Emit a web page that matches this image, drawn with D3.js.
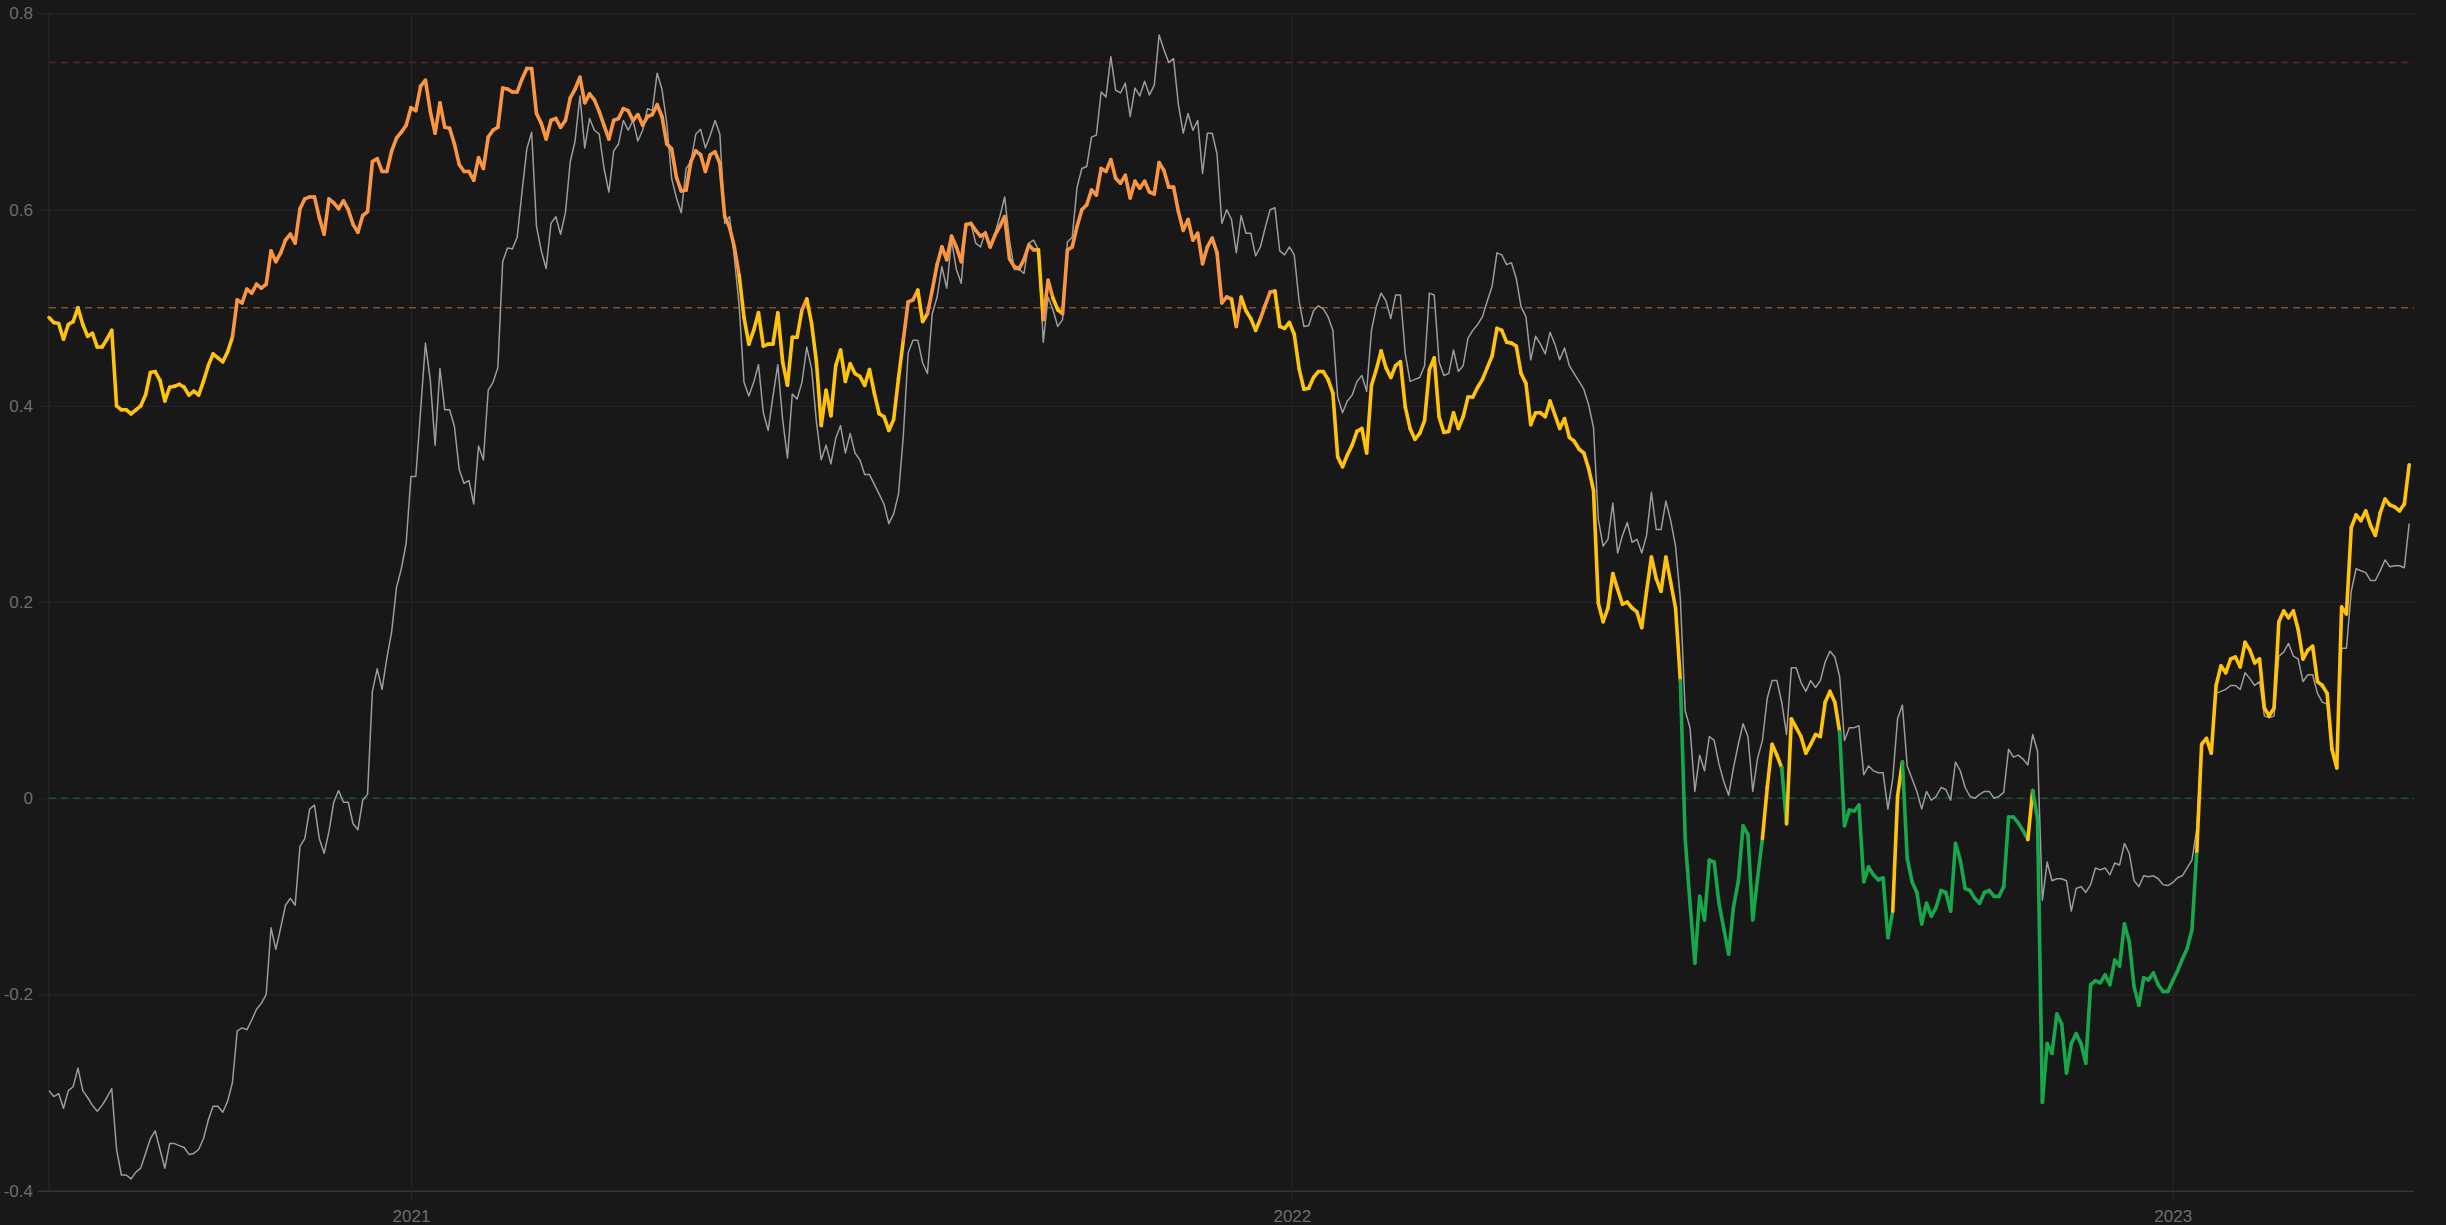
<!DOCTYPE html>
<html><head><meta charset="utf-8">
<script src="https://cdn.jsdelivr.net/npm/d3@7"></script>
<style>html,body{margin:0;padding:0;background:#181818;overflow:hidden}</style>
</head><body><svg id="c" width="2446" height="1225"></svg>
<script>
const startDate = "2020-08-04";
const endDate = "2023-04-11";
const stepDays = 2;

const strengthValues = [
0.490,0.485,0.484,0.468,0.483,0.486,0.500,0.483,0.471,0.474,
0.460,0.460,0.468,0.477,0.400,0.396,0.396,0.392,0.396,0.400,
0.411,0.434,0.435,0.426,0.405,0.419,0.420,0.422,0.419,0.411,
0.415,0.411,0.425,0.441,0.453,0.449,0.445,0.455,0.470,0.508,
0.505,0.519,0.515,0.524,0.520,0.524,0.558,0.547,0.556,0.569,
0.575,0.566,0.601,0.611,0.613,0.613,0.592,0.575,0.611,0.607,
0.601,0.609,0.600,0.585,0.577,0.594,0.598,0.649,0.652,0.639,
0.639,0.660,0.673,0.679,0.686,0.704,0.701,0.726,0.732,0.700,
0.678,0.709,0.684,0.683,0.667,0.646,0.639,0.639,0.630,0.653,
0.642,0.674,0.681,0.684,0.724,0.723,0.720,0.720,0.733,0.744,
0.744,0.698,0.688,0.672,0.691,0.693,0.684,0.691,0.714,0.723,
0.735,0.709,0.718,0.712,0.700,0.686,0.672,0.691,0.693,0.703,
0.701,0.691,0.697,0.686,0.695,0.697,0.707,0.695,0.667,0.662,
0.633,0.619,0.620,0.649,0.660,0.656,0.639,0.656,0.659,0.647,
0.593,0.582,0.562,0.533,0.490,0.463,0.477,0.495,0.461,0.463,
0.463,0.495,0.445,0.421,0.470,0.470,0.498,0.509,0.484,0.445,
0.380,0.416,0.390,0.441,0.457,0.425,0.443,0.433,0.430,0.421,
0.437,0.413,0.392,0.389,0.375,0.386,0.428,0.467,0.506,0.508,
0.518,0.486,0.494,0.518,0.544,0.562,0.549,0.573,0.562,0.547,
0.585,0.586,0.579,0.573,0.576,0.562,0.574,0.583,0.593,0.550,
0.542,0.540,0.549,0.564,0.559,0.559,0.488,0.528,0.510,0.498,
0.494,0.559,0.562,0.583,0.600,0.605,0.620,0.615,0.642,0.639,
0.651,0.632,0.627,0.635,0.612,0.629,0.622,0.629,0.618,0.616,
0.648,0.640,0.623,0.623,0.598,0.579,0.590,0.569,0.576,0.545,
0.562,0.571,0.556,0.505,0.511,0.509,0.481,0.511,0.497,0.489,
0.477,0.489,0.503,0.516,0.517,0.481,0.479,0.485,0.473,0.438,
0.417,0.418,0.429,0.435,0.435,0.427,0.413,0.348,0.338,0.350,
0.360,0.374,0.377,0.352,0.421,0.437,0.456,0.439,0.429,0.441,
0.445,0.399,0.377,0.366,0.372,0.385,0.437,0.449,0.389,0.373,
0.374,0.393,0.377,0.389,0.409,0.409,0.419,0.427,0.439,0.451,
0.479,0.477,0.465,0.464,0.461,0.433,0.423,0.381,0.393,0.393,
0.389,0.405,0.391,0.377,0.387,0.368,0.364,0.356,0.352,0.336,
0.314,0.199,0.180,0.194,0.229,0.213,0.198,0.200,0.194,0.190,
0.174,0.211,0.246,0.224,0.211,0.246,0.220,0.194,0.120,-0.041,
-0.107,-0.168,-0.100,-0.124,-0.063,-0.065,-0.107,-0.133,-0.159,-0.111,
-0.085,-0.028,-0.037,-0.124,-0.081,-0.041,0.011,0.055,0.044,0.031,
-0.026,0.081,0.072,0.063,0.046,0.055,0.065,0.063,0.098,0.109,
0.098,0.068,-0.028,-0.012,-0.013,-0.007,-0.085,-0.070,-0.078,-0.083,
-0.081,-0.142,-0.115,0.002,0.037,-0.061,-0.085,-0.096,-0.128,-0.107,
-0.120,-0.111,-0.094,-0.096,-0.115,-0.046,-0.063,-0.092,-0.094,-0.102,
-0.107,-0.096,-0.094,-0.100,-0.100,-0.090,-0.019,-0.019,-0.025,-0.033,
-0.042,0.008,-0.021,-0.310,-0.250,-0.260,-0.220,-0.230,-0.280,-0.250,
-0.240,-0.250,-0.270,-0.190,-0.186,-0.188,-0.180,-0.190,-0.165,-0.171,
-0.128,-0.146,-0.192,-0.211,-0.183,-0.185,-0.178,-0.190,-0.197,-0.197,
-0.186,-0.176,-0.164,-0.153,-0.134,-0.054,0.055,0.061,0.046,0.115,
0.135,0.128,0.142,0.144,0.134,0.159,0.151,0.138,0.142,0.092,
0.084,0.092,0.180,0.191,0.184,0.191,0.172,0.142,0.151,0.155,
0.119,0.115,0.107,0.050,0.031,0.195,0.188,0.276,0.289,0.283,
0.293,0.278,0.268,0.291,0.305,0.299,0.297,0.293,0.300,0.340
];

const baselineValues = [
-0.298,-0.304,-0.301,-0.316,-0.298,-0.294,-0.275,-0.298,-0.305,-0.313,
-0.319,-0.313,-0.305,-0.296,-0.358,-0.384,-0.384,-0.388,-0.381,-0.377,
-0.362,-0.347,-0.339,-0.358,-0.377,-0.352,-0.352,-0.354,-0.356,-0.363,
-0.362,-0.358,-0.347,-0.328,-0.314,-0.314,-0.320,-0.309,-0.290,-0.237,
-0.234,-0.236,-0.226,-0.215,-0.209,-0.200,-0.132,-0.154,-0.132,-0.109,
-0.102,-0.109,-0.049,-0.041,-0.011,-0.007,-0.041,-0.056,-0.034,-0.004,
0.008,-0.004,-0.004,-0.026,-0.032,-0.002,0.004,0.109,0.132,0.111,
0.143,0.170,0.215,0.234,0.260,0.328,0.328,0.396,0.464,0.426,
0.360,0.438,0.396,0.396,0.379,0.335,0.321,0.324,0.300,0.359,
0.345,0.416,0.424,0.439,0.547,0.561,0.560,0.572,0.618,0.662,
0.679,0.583,0.558,0.540,0.586,0.593,0.575,0.597,0.649,0.670,
0.716,0.663,0.693,0.681,0.677,0.642,0.618,0.660,0.667,0.691,
0.681,0.691,0.670,0.681,0.703,0.701,0.739,0.723,0.688,0.632,
0.612,0.597,0.642,0.649,0.677,0.682,0.663,0.676,0.691,0.677,
0.586,0.593,0.551,0.502,0.424,0.410,0.424,0.442,0.393,0.375,
0.410,0.442,0.386,0.347,0.412,0.407,0.424,0.460,0.438,0.384,
0.345,0.360,0.341,0.367,0.380,0.352,0.372,0.352,0.345,0.330,
0.330,0.320,0.310,0.300,0.280,0.290,0.310,0.369,0.454,0.467,
0.467,0.444,0.433,0.494,0.511,0.542,0.520,0.569,0.539,0.525,
0.584,0.586,0.566,0.562,0.578,0.562,0.576,0.593,0.613,0.569,
0.539,0.539,0.535,0.566,0.569,0.559,0.465,0.511,0.498,0.481,
0.488,0.567,0.572,0.623,0.642,0.644,0.674,0.676,0.720,0.715,
0.756,0.722,0.719,0.729,0.695,0.724,0.716,0.731,0.717,0.727,
0.778,0.763,0.750,0.754,0.707,0.678,0.698,0.681,0.691,0.637,
0.678,0.678,0.657,0.586,0.600,0.590,0.556,0.594,0.576,0.576,
0.553,0.562,0.582,0.600,0.602,0.558,0.554,0.562,0.554,0.507,
0.481,0.482,0.497,0.502,0.499,0.491,0.477,0.409,0.393,0.405,
0.411,0.425,0.431,0.415,0.477,0.501,0.515,0.507,0.489,0.513,
0.513,0.453,0.425,0.427,0.429,0.441,0.515,0.513,0.445,0.431,
0.433,0.457,0.435,0.441,0.469,0.477,0.483,0.491,0.507,0.522,
0.556,0.554,0.544,0.546,0.530,0.501,0.491,0.447,0.471,0.463,
0.453,0.475,0.463,0.447,0.459,0.441,0.433,0.425,0.417,0.401,
0.378,0.284,0.257,0.264,0.301,0.250,0.268,0.281,0.261,0.264,
0.250,0.268,0.312,0.274,0.274,0.303,0.283,0.257,0.203,0.089,
0.072,0.007,0.044,0.028,0.063,0.059,0.035,0.017,0.003,0.031,
0.055,0.076,0.063,0.007,0.041,0.059,0.102,0.120,0.120,0.098,
0.065,0.133,0.133,0.118,0.109,0.120,0.113,0.120,0.139,0.150,
0.144,0.124,0.059,0.072,0.072,0.074,0.024,0.033,0.028,0.026,
0.026,-0.011,0.020,0.081,0.095,0.033,0.020,0.007,-0.011,0.007,
-0.002,0.002,0.011,0.009,-0.002,0.037,0.028,0.011,0.002,0.000,
0.004,0.007,0.007,0.000,0.002,0.006,0.050,0.042,0.044,0.040,
0.034,0.065,0.048,-0.104,-0.065,-0.084,-0.082,-0.082,-0.084,-0.115,
-0.092,-0.090,-0.096,-0.088,-0.071,-0.073,-0.071,-0.078,-0.066,-0.068,
-0.046,-0.056,-0.084,-0.090,-0.079,-0.080,-0.079,-0.082,-0.088,-0.089,
-0.086,-0.081,-0.079,-0.071,-0.063,-0.031,0.057,0.061,0.046,0.107,
0.109,0.111,0.115,0.115,0.111,0.128,0.122,0.115,0.119,0.084,
0.082,0.084,0.145,0.149,0.158,0.145,0.142,0.119,0.126,0.126,
0.107,0.098,0.096,0.046,0.042,0.153,0.153,0.211,0.234,0.232,
0.230,0.222,0.222,0.232,0.243,0.236,0.237,0.237,0.235,0.280
];

const yTickValues = [-0.4, -0.2, 0, 0.2, 0.4, 0.6, 0.8];
const yTickLabels = ["-0.4", "-0.2", "0", "0.2", "0.4", "0.6", "0.8"];
const xTickDates = ["2021-01-01", "2022-01-01", "2023-01-01"];
const xTickLabels = ["2021", "2022", "2023"];
const refLevels = [0.75, 0.5, 0];
const refColors = ["#5c2525", "#7e5030", "#1e5230"];
const zoneColors = { high: "#FA9641", mid: "#FFC30B", low: "#17A84C" };

(function draw() {
  const parse = d3.utcParse("%Y-%m-%d");
  const t0 = parse(startDate);
  const dates = strengthValues.map((_, i) => d3.utcDay.offset(t0, i * stepDays));

  const W = 2446, H = 1225;
  const pL = 49, pR = 2414, pT = 13.5, pB = 1190.7;

  const x = d3.scaleUtc().domain([t0, parse(endDate)]).range([pL, pR]);
  const y = d3.scaleLinear().domain([-0.4, 0.8]).range([pB, pT]);

  const svg = d3.select("#c");
  svg.append("rect").attr("width", W).attr("height", H).attr("fill", "#181818");

  const font = "'Liberation Sans', Arial, sans-serif";

  const yAxis = d3.axisLeft(y).tickValues(yTickValues)
    .tickFormat((d, i) => yTickLabels[i]).tickSizeOuter(0);
  const gy = svg.append("g").attr("transform", `translate(${pL},0)`).call(yAxis);
  gy.select(".domain").attr("stroke", "#2c2c2c").attr("d", `M0,${pT}V${pB}`);
  gy.selectAll(".tick line").attr("x1", -11).attr("x2", pR - pL)
    .attr("stroke", d => d === -0.4 ? "#343434" : "#262626")
    .attr("stroke-width", d => d === -0.4 ? 1.5 : 1);
  gy.selectAll(".tick text").attr("x", -16).attr("fill", "#6e6e6e")
    .style("font-family", font).style("font-size", "17px");

  const xAxis = d3.axisBottom(x).tickValues(xTickDates.map(parse))
    .tickFormat((d, i) => xTickLabels[i]).tickSizeOuter(0);
  const gx = svg.append("g").attr("transform", `translate(0,${pB})`).call(xAxis);
  gx.select(".domain").remove();
  gx.selectAll(".tick line").attr("y1", pT - pB).attr("y2", 11).attr("stroke", "#262626");
  gx.selectAll(".tick text").attr("y", 19).attr("fill", "#6e6e6e")
    .style("font-family", font).style("font-size", "17px");

  svg.append("g").selectAll("line").data(refLevels).join("line")
    .attr("x1", pL).attr("x2", pR)
    .attr("y1", d => y(d)).attr("y2", d => y(d))
    .attr("stroke", (d, i) => refColors[i]).attr("stroke-width", 1.5)
    .attr("stroke-dasharray", "7,5");

  const line = d3.line().x((d, i) => x(dates[i])).y(d => y(d));
  svg.append("path").datum(baselineValues).attr("d", line)
    .attr("fill", "none").attr("stroke", "#9c9c9c").attr("stroke-width", 1.5)
    .attr("stroke-linejoin", "round");

  const zone = v => v > 0.5 ? zoneColors.high : (v < 0 ? zoneColors.low : zoneColors.mid);
  const segs = d3.range(1, strengthValues.length).map(i => ({
    x1: x(dates[i - 1]), y1: y(strengthValues[i - 1]),
    x2: x(dates[i]), y2: y(strengthValues[i]), c: zone(strengthValues[i])
  }));
  svg.append("g").selectAll("line").data(segs).join("line")
    .attr("x1", d => d.x1).attr("y1", d => d.y1)
    .attr("x2", d => d.x2).attr("y2", d => d.y2)
    .attr("stroke", d => d.c).attr("stroke-width", 3.6)
    .attr("stroke-linecap", "round");
})();
</script>
</body></html>
